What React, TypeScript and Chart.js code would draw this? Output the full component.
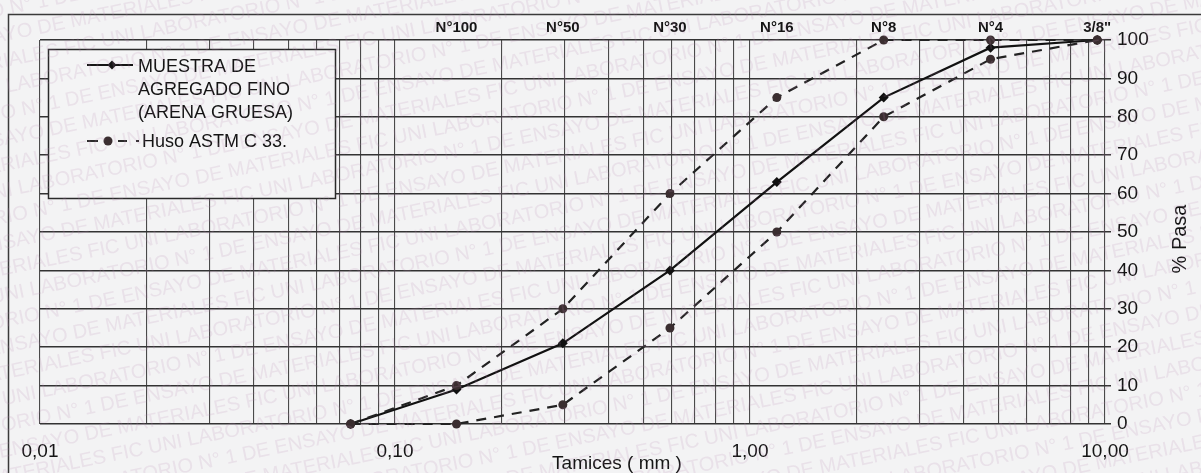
import React, { useEffect, useRef } from "react";
import { Chart, registerables } from "chart.js";

Chart.register(...registerables);

// ---- data ----
const sieveSizesMm = [0.075, 0.149, 0.297, 0.595, 1.19, 2.38, 4.76, 9.51];
const samplePassing = [0, 9, 21, 40, 63, 85, 98, 100];
const upperLimit = [0, 10, 30, 60, 85, 100, 100, 100];
const lowerLimit = [0, 0, 5, 25, 50, 80, 95, 100];

const sieveNames = ["N°100", "N°50", "N°30", "N°16", "N°8", "N°4", "3/8\""];
const sieveNameSizes = [0.149, 0.297, 0.595, 1.19, 2.38, 4.76, 9.51];

const xGridValues = [
  0.01, 0.02, 0.03, 0.04, 0.05, 0.06, 0.07, 0.08, 0.09,
  0.1, 0.2, 0.3, 0.4, 0.5, 0.6, 0.7, 0.8, 0.9,
  1, 2, 3, 4, 5, 6, 7, 8, 9, 10,
];
const xGridLabels = [
  "0,01", "", "", "", "", "", "", "", "",
  "0,10", "", "", "", "", "", "", "", "",
  "1,00", "", "", "", "", "", "", "", "", "10,00",
];

const legendSampleLines = ["MUESTRA DE", "AGREGADO FINO", "(ARENA GRUESA)"];
const legendHusoLabel = "Huso ASTM C 33.";
const xTitle = "Tamices ( mm )";
const yTitle = "% Pasa";
const watermarkPhrase = "LABORATORIO N° 1 DE ENSAYO DE MATERIALES FIC UNI ";

const FONT = "'Liberation Sans', Arial, sans-serif";
const INK = "#141414";

const decorPlugin = {
  id: "decor",
  beforeDraw(chart: any) {
    const ctx = chart.ctx;
    ctx.save();
    ctx.fillStyle = "#f3f3f4";
    ctx.fillRect(0, 0, chart.width, chart.height);
    ctx.restore();
  },
  afterDraw(chart: any) {
    const ctx = chart.ctx;
    const W = chart.width;
    const H = chart.height;
    const xs = chart.scales.x;
    const ys = chart.scales.y;
    ctx.save();

    // outer frame
    ctx.strokeStyle = "#3a3a3a";
    ctx.lineWidth = 1.5;
    ctx.beginPath();
    ctx.moveTo(8.5, H);
    ctx.lineTo(8.5, 14.5);
    ctx.lineTo(W, 14.5);
    ctx.stroke();

    // sieve names on top
    ctx.fillStyle = INK;
    ctx.font = `bold 15px ${FONT}`;
    ctx.textAlign = "center";
    ctx.textBaseline = "middle";
    sieveNames.forEach((name, i) => {
      ctx.fillText(name, xs.getPixelForValue(sieveNameSizes[i]), 28);
    });

    // x title
    ctx.font = `19px ${FONT}`;
    ctx.fillText(xTitle, 617, 464);

    // y title (reads bottom to top)
    ctx.save();
    ctx.translate(1180, (ys.getPixelForValue(0) + ys.getPixelForValue(100)) / 2 + 7);
    ctx.rotate(-Math.PI / 2);
    ctx.font = `20px ${FONT}`;
    ctx.fillText(yTitle, 0, 0);
    ctx.restore();

    // legend box
    const bx = 48, by = 49, bw = 287, bh = 149;
    ctx.fillStyle = "#f4f4f5";
    ctx.fillRect(bx, by, bw, bh);
    ctx.strokeStyle = "#2a2a2a";
    ctx.lineWidth = 1.5;
    ctx.strokeRect(bx + 0.5, by + 0.5, bw, bh);

    // sample entry
    ctx.strokeStyle = "#151515";
    ctx.lineWidth = 2;
    ctx.beginPath();
    ctx.moveTo(87, 65);
    ctx.lineTo(133, 65);
    ctx.stroke();
    ctx.fillStyle = "#151515";
    ctx.beginPath();
    ctx.moveTo(112, 60.5);
    ctx.lineTo(116.5, 65);
    ctx.lineTo(112, 69.5);
    ctx.lineTo(107.5, 65);
    ctx.closePath();
    ctx.fill();

    ctx.fillStyle = INK;
    ctx.font = `18px ${FONT}`;
    ctx.textAlign = "left";
    ctx.textBaseline = "middle";
    legendSampleLines.forEach((t, i) => ctx.fillText(t, 138, 67 + i * 23));

    // huso entry
    ctx.strokeStyle = "#2a2a2a";
    ctx.lineWidth = 2;
    ctx.beginPath();
    ctx.moveTo(87, 141);
    ctx.lineTo(98, 141);
    ctx.moveTo(118, 141);
    ctx.lineTo(127, 141);
    ctx.moveTo(136, 141);
    ctx.lineTo(139, 141);
    ctx.stroke();
    ctx.fillStyle = "#3a2e30";
    ctx.beginPath();
    ctx.arc(108, 141, 4.5, 0, Math.PI * 2);
    ctx.fill();
    ctx.fillStyle = INK;
    ctx.fillText(legendHusoLabel, 142, 142);

    // faint stamped watermark over the whole sheet
    ctx.fillStyle = "rgba(185,135,175,0.17)";
    ctx.font = `20px ${FONT}`;
    ctx.textAlign = "left";
    ctx.textBaseline = "alphabetic";
    const angle = -0.2;
    for (let i = 0; i < 34; i++) {
      const y0 = -10 + i * 26;
      ctx.save();
      ctx.translate(0, y0);
      ctx.rotate(angle);
      const shift = -((i * 137) % 560);
      ctx.fillText(watermarkPhrase.repeat(4), shift, 0);
      ctx.restore();
    }

    ctx.restore();
  },
};

export default function App() {
  const ref = useRef<HTMLCanvasElement | null>(null);

  useEffect(() => {
    if (!ref.current) return;
    const mk = (vals: number[]) => sieveSizesMm.map((x, i) => ({ x, y: vals[i] }));
    const chart = new Chart(ref.current, {
      type: "line",
      data: {
        datasets: [
          {
            label: "Huso superior",
            data: mk(upperLimit),
            borderColor: "#222222",
            backgroundColor: "#3a2e30",
            borderWidth: 2.2,
            borderDash: [10, 8],
            pointStyle: "circle",
            pointRadius: 4.5,
            pointBorderWidth: 0,
            tension: 0,
            clip: false as any,
          },
          {
            label: "Huso inferior",
            data: mk(lowerLimit),
            borderColor: "#222222",
            backgroundColor: "#3a2e30",
            borderWidth: 2.2,
            borderDash: [10, 8],
            pointStyle: "circle",
            pointRadius: 4.5,
            pointBorderWidth: 0,
            tension: 0,
            clip: false as any,
          },
          {
            label: "Muestra de agregado fino (arena gruesa)",
            data: mk(samplePassing),
            borderColor: "#111111",
            backgroundColor: "#111111",
            borderWidth: 2.2,
            pointStyle: "rectRot",
            pointRadius: 5,
            pointBorderWidth: 0,
            tension: 0,
            clip: false as any,
          },
        ],
      },
      options: {
        animation: false,
        responsive: false,
        maintainAspectRatio: false,
        layout: { padding: { left: 40, top: 40, right: 0, bottom: 0 } },
        plugins: {
          legend: { display: false },
          tooltip: { enabled: false },
          title: { display: false },
        },
        scales: {
          x: {
            type: "logarithmic",
            min: 0.01,
            max: 10,
            afterBuildTicks: (s: any) => {
              s.ticks = xGridValues.map((v) => ({ value: v }));
            },
            afterFit: (s: any) => {
              s.height = 49;
            },
            grid: { color: "#4a4a4a", lineWidth: 1.1, drawTicks: false },
            border: { display: false },
            ticks: {
              autoSkip: false,
              maxRotation: 0,
              minRotation: 0,
              padding: 16,
              color: INK,
              font: { family: FONT, size: 19 },
              callback: (_v: any, i: number) => xGridLabels[i],
            },
          },
          y: {
            type: "linear",
            position: "right",
            min: 0,
            max: 100,
            afterFit: (s: any) => {
              s.width = 96;
            },
            grid: { color: "#333333", lineWidth: 1.5, drawTicks: true, tickLength: 6 },
            border: { display: false },
            ticks: {
              stepSize: 10,
              padding: 6,
              color: INK,
              font: { family: FONT, size: 19 },
            },
          },
        },
      },
      plugins: [decorPlugin],
    });
    return () => chart.destroy();
  }, []);

  return (
    <div style={{ position: "absolute", left: 0, top: 0, width: 1201, height: 473 }}>
      <canvas ref={ref} width={1201} height={473} />
    </div>
  );
}
